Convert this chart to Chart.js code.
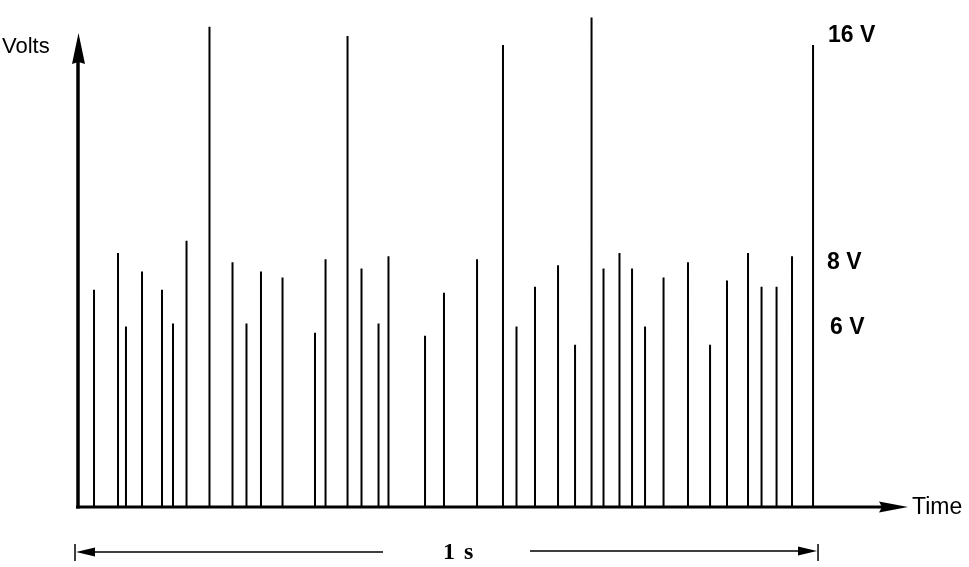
<!DOCTYPE html>
<html>
<head>
<meta charset="utf-8">
<script src="https://cdn.jsdelivr.net/npm/chart.js@4/dist/chart.umd.min.js"></script>
<style>
  html, body { margin: 0; padding: 0; background: #fff; }
  #wrap { width: 969px; height: 567px; }
</style>
</head>
<body>
<div id="wrap"><canvas id="c" width="969" height="567"></canvas></div>
<script>
// Pulse times (ms from the start of the trace)
const pulseTimes = [22.9, 55.2, 65.9, 87.5, 114.4, 129.2, 147.4, 178.3, 209.3, 228.1,
  247.6, 276.6, 320.3, 334.5, 364.1, 382.9, 405.8, 419.2, 468.4, 493.9,
  538.4, 573.3, 591.5, 616.4, 647.4, 670.3, 692.5, 708.6, 730.1, 747.0,
  764.5, 789.4, 822.3, 852.0, 874.8, 903.1, 921.3, 941.5, 962.3, 990.6];
// Pulse peak voltages (V)
const pulseVolts = [7.1, 8.3, 5.9, 7.7, 7.1, 6.0, 8.7, 15.7, 8.0, 6.0,
  7.7, 7.5, 5.7, 8.1, 15.4, 7.8, 6.0, 8.2, 5.6, 7.0,
  8.1, 15.1, 5.9, 7.2, 7.9, 5.3, 16.0, 7.8, 8.3, 7.8,
  5.9, 7.5, 8.0, 5.3, 7.4, 8.3, 7.2, 7.2, 8.2, 15.1];
// Level labels on the right
const levelLabels = ["16 V", "8 V", "6 V"];
const axisLabelY = "Volts";
const axisLabelX = "Time";
const spanLabel = ["1", "s"];
const spanMs = 1000;

const spikeData = [];
pulseTimes.forEach((t, i) => {
  spikeData.push({x: t, y: 0});
  spikeData.push({x: t, y: pulseVolts[i]});
  spikeData.push({x: t, y: 0});
});

const decor = {
  id: 'decor',
  afterDraw(chart) {
    const ctx = chart.ctx;
    const xs = chart.scales.x, ys = chart.scales.y;
    const x0 = xs.getPixelForValue(0) + 1;
    const y0 = ys.getPixelForValue(0);
    ctx.save();
    ctx.fillStyle = '#000';
    ctx.strokeStyle = '#000';
    // Y axis with arrow
    const yTip = 33;
    ctx.lineWidth = 3.5;
    ctx.beginPath();
    ctx.moveTo(x0, y0 + 1.5);
    ctx.lineTo(x0, yTip + 26);
    ctx.stroke();
    ctx.beginPath();
    ctx.moveTo(x0 + 0.5, yTip);
    ctx.lineTo(x0 + 7, yTip + 31);
    ctx.lineTo(x0 + 0.5, yTip + 29);
    ctx.lineTo(x0 - 6, yTip + 31);
    ctx.closePath();
    ctx.fill();
    // X axis with arrow
    const xTip = 908;
    ctx.lineWidth = 3;
    ctx.beginPath();
    ctx.moveTo(x0 - 2, y0);
    ctx.lineTo(xTip - 24, y0);
    ctx.stroke();
    ctx.beginPath();
    ctx.moveTo(xTip, y0);
    ctx.lineTo(xTip - 29, y0 - 5.5);
    ctx.lineTo(xTip - 26, y0);
    ctx.lineTo(xTip - 29, y0 + 5.5);
    ctx.closePath();
    ctx.fill();
    // Axis labels
    ctx.textBaseline = 'middle';
    ctx.textAlign = 'left';
    ctx.font = '22px "Liberation Sans", Arial, sans-serif';
    ctx.fillText(axisLabelY, 2, 47);
    ctx.font = '23px "Liberation Sans", Arial, sans-serif';
    ctx.fillText(axisLabelX, 912, 508);
    // Level labels
    ctx.font = 'bold 23px "Liberation Sans", Arial, sans-serif';
    const lvY = [36, 263, 328];
    const lvX = [828, 827, 830];
    levelLabels.forEach((s, i) => ctx.fillText(s, lvX[i], lvY[i]));
    // 1 s span dimension
    const dy = 552;
    const dl = xs.getPixelForValue(0) - 2;
    const dr = xs.getPixelForValue(spanMs) - 2;
    ctx.lineWidth = 1.5;
    ctx.beginPath();
    ctx.moveTo(dl, dy - 8); ctx.lineTo(dl, dy + 9);
    ctx.moveTo(dr, dy - 8); ctx.lineTo(dr, dy + 9);
    ctx.moveTo(dl + 16, dy); ctx.lineTo(383, dy);
    ctx.moveTo(530, dy - 1); ctx.lineTo(dr - 16, dy - 1);
    ctx.stroke();
    ctx.beginPath();
    ctx.moveTo(dl + 1, dy); ctx.lineTo(dl + 20, dy - 4.5); ctx.lineTo(dl + 20, dy + 4.5); ctx.closePath();
    ctx.moveTo(dr - 1, dy - 1); ctx.lineTo(dr - 20, dy - 5.5); ctx.lineTo(dr - 20, dy + 3.5); ctx.closePath();
    ctx.fill();
    ctx.font = 'bold 24px "Liberation Serif", "Times New Roman", serif';
    ctx.textAlign = 'left';
    ctx.fillText(spanLabel[0], 443, 553);
    ctx.fillText(spanLabel[1], 464, 553);
    ctx.restore();
  }
};

new Chart(document.getElementById('c'), {
  type: 'line',
  data: {
    datasets: [{
      data: spikeData,
      borderColor: '#000',
      borderWidth: 2,
      pointRadius: 0,
      tension: 0,
      borderJoinStyle: 'bevel',
      clip: false,
      fill: false
    }]
  },
  options: {
    responsive: false,
    animation: false,
    events: [],
    layout: { padding: { left: 77, right: 61, top: 16, bottom: 60 } },
    plugins: { legend: { display: false }, tooltip: { enabled: false } },
    scales: {
      x: { type: 'linear', min: 0, max: 1118.4, display: false },
      y: { type: 'linear', min: 0, max: 16.05, display: false }
    }
  },
  plugins: [decor]
});
</script>
</body>
</html>
